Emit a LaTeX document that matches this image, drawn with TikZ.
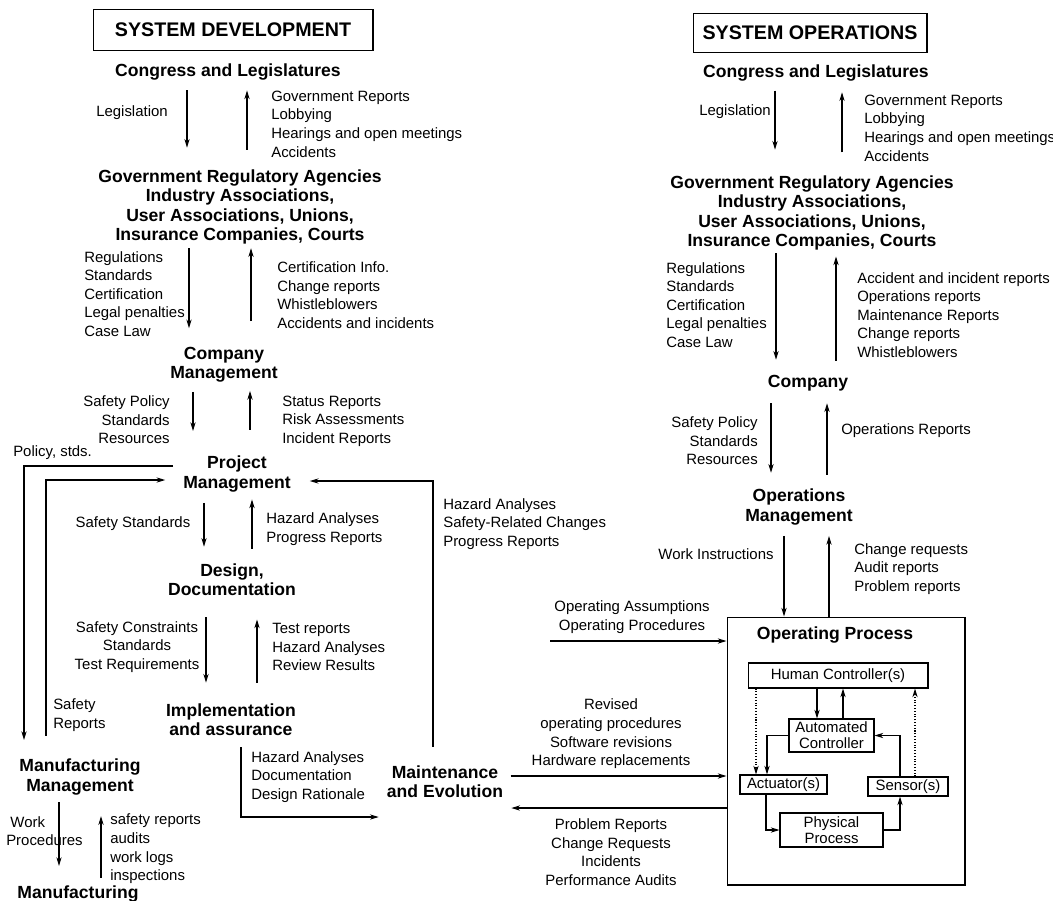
\documentclass[tikz,border=0pt]{standalone}
\usepackage{fontspec}
\setmainfont{Liberation Sans}
\usetikzlibrary{arrows.meta}
\newcommand{\lvlfont}{\bfseries\fontsize{10}{11}\selectfont}
\newcommand{\txtfont}{\fontsize{8.5}{10.6}\selectfont}

\begin{document}
\begin{tikzpicture}[x=0.02cm, y=-0.02cm, line width=0.6pt, >={Stealth[length=5pt,width=3pt]},
    head/.style={draw, font=\bfseries\fontsize{11.2}{13}\selectfont, inner sep=0pt},
    lvl/.style={font=\lvlfont, align=center, inner sep=1pt},
    lst/.style={font=\txtfont, align=left, anchor=west, inner sep=1pt},
    lstr/.style={font=\txtfont, align=right, anchor=east, inner sep=1pt},
    lstc/.style={font=\txtfont, align=center, inner sep=1pt},
    blk/.style={draw, font=\fontsize{8.5}{9}\selectfont, align=center, inner sep=0pt},
    sh/.style 2 args={shorten <=#1, shorten >=#2}]
    \useasboundingbox (0,0) rectangle (1053,900);

    % System development
    \node[head, minimum width=5.6cm, minimum height=0.82cm] (devhead) at (233,30) {SYSTEM DEVELOPMENT};
    \node[lvl] (congD) at (228,72) {Congress and Legislatures};
    \node[lstc] (legisD) at (132,113) {Legislation};
    \node[lst] (grepD) at (269,124) {Government Reports\\Lobbying\\Hearings and open meetings\\Accidents};
    \node[lvl] (agencyD) at (240,207) {Government Regulatory Agencies\\Industry Associations,\\User Associations, Unions,\\Insurance Companies, Courts};
    \node[lst] (regD) at (82,294) {Regulations\\Standards\\Certification\\Legal penalties\\Case Law};
    \node[lst] (certD) at (275,295) {Certification Info.\\Change reports\\Whistleblowers\\Accidents and incidents};
    \node[lvl] (compD) at (224,365) {Company\\Management};
    \node[lstr] (polD) at (172,420) {Safety Policy\\Standards\\Resources};
    \node[lst] (statD) at (280,421) {Status Reports\\Risk Assessments\\Incident Reports};
    \node[lst] (stdsD) at (11,453) {Policy, stds.};
    \node[lvl] (projD) at (237,474) {Project\\Management};
    \node[lst] (hazD) at (441,524) {Hazard Analyses\\Safety-Related Changes\\Progress Reports};
    \node[lstc] (safstdD) at (133,524) {Safety Standards};
    \node[lst] (progD) at (264,529) {Hazard Analyses\\Progress Reports};
    \node[lvl] (desD) at (232,580) {Design,\\Documentation};
    \node[lstc] (consD) at (137,647) {Safety Constraints\\Standards\\Test Requirements};
    \node[lst] (testD) at (270,647) {Test reports\\Hazard Analyses\\Review Results};
    \node[lvl] (implD) at (231,720) {Implementation\\and assurance};
    \node[lst] (srepD) at (51,715) {Safety\\Reports};
    \node[lst] (docD) at (249,777) {Hazard Analyses\\Documentation\\Design Rationale};
    \node[lvl] (maint) at (445,782) {Maintenance\\and Evolution};
    \node[lvl] (mfgmD) at (80,777) {Manufacturing\\Management};
    \node[lst] (workD) at (4,831) {\ Work\\Procedures};
    \node[lst] (logsD) at (108,849) {safety reports\\audits\\work logs\\inspections};
    \node[lvl] (mfgD) at (78,894) {Manufacturing};

    \draw[->, sh={4.5pt}{11.3pt}] (congD.south -| 187,0) -- (agencyD.north -| 187,0);
    \draw[->, sh={10pt}{4.5pt}] (agencyD.north -| 247,0) -- (congD.south -| 247,0);
    \draw[->, sh={1pt}{9.6pt}] (agencyD.south -| 189,0) -- (compD.north -| 189,0);
    \draw[->, sh={13.6pt}{1pt}] (compD.north -| 251,0) -- (agencyD.south -| 251,0);
    \draw[->, sh={4pt}{13pt}] (compD.south -| 193,0) -- (projD.north -| 193,0);
    \draw[->, sh={13.6pt}{3.4pt}] (projD.north -| 250,0) -- (compD.south -| 250,0);
    \draw[->, sh={5pt}{8.5pt}] (projD.south -| 204,0) -- (desD.north -| 204,0);
    \draw[->, sh={7.4pt}{3pt}] (desD.north -| 252,0) -- (projD.south -| 252,0);
    \draw[->, sh={10.8pt}{10.8pt}] (desD.south -| 206,0) -- (implD.north -| 206,0);
    \draw[->, sh={10.8pt}{12pt}] (implD.north -| 257,0) -- (desD.south -| 257,0);
    \draw[->, sh={3pt}{10pt}] (mfgmD.south -| 59,0) -- (mfgD.north -| 59,0);
    \draw[->, sh={3.4pt}{10.8pt}] (mfgD.north -| 101,0) -- (mfgmD.south -| 101,0);

    % feedback loops round project management
    \draw[->, sh={4.5pt}{9.6pt}] (projD.west |- 0,466) -| (24,0 |- mfgmD.north);
    \draw[->, sh={12pt}{9pt}] (46,0 |- mfgmD.north) |- (projD.west |- 0,480);
    \draw[->, sh={9.6pt}{9.6pt}] (433,0 |- maint.north) |- (projD.east |- 0,481);
    \draw[->, sh={5pt}{3.4pt}] (241,0 |- implD.south) |- (maint.west |- 0,817);

    % System operations
    \node[head, minimum width=4.68cm, minimum height=0.78cm] (opshead) at (810,33) {SYSTEM OPERATIONS};
    \node[lvl] (congO) at (816,73) {Congress and Legislatures};
    \node[lstc] (legisO) at (735,112) {Legislation};
    \node[lst] (grepO) at (862,128) {Government Reports\\Lobbying\\Hearings and open meetings\\Accidents};
    \node[lvl] (agencyO) at (812,213) {Government Regulatory Agencies\\Industry Associations,\\User Associations, Unions,\\Insurance Companies, Courts};
    \node[lst] (regO) at (664,305) {Regulations\\Standards\\Certification\\Legal penalties\\Case Law};
    \node[lst] (accO) at (855,315) {Accident and incident reports\\Operations reports\\Maintenance Reports\\Change reports\\Whistleblowers};
    \node[lvl] (compO) at (808,383) {Company};
    \node[lstr] (polO) at (760,441) {Safety Policy\\Standards\\Resources};
    \node[lst] (opsrepO) at (839,431) {Operations Reports};
    \node[lvl] (opsmO) at (799,507) {Operations\\Management};
    \node[lstc] (workinstO) at (716,554) {Work Instructions};
    \node[lst] (chgO) at (852,569) {Change requests\\Audit reports\\Problem reports};

    \draw[->, sh={4pt}{13.6pt}] (congO.south -| 775,0) -- (agencyO.north -| 775,0);
    \draw[->, sh={12pt}{5pt}] (agencyO.north -| 842,0) -- (congO.south -| 842,0);
    \draw[->, line width=1pt, sh={0.5pt}{7.4pt}] (agencyO.south -| 776,0) -- (compO.north -| 776,0);
    \draw[->, sh={6.8pt}{2.3pt}] (compO.north -| 836,0) -- (agencyO.south -| 836,0);
    \draw[->, sh={5.7pt}{8pt}] (compO.south -| 771,0) -- (opsmO.north -| 771,0);
    \draw[->, line width=0.9pt, sh={6.8pt}{5.7pt}] (opsmO.north -| 827,0) -- (compO.south -| 827,0);

    % operating process
    \node[draw, minimum width=4.76cm, minimum height=5.36cm, inner sep=0pt] (opbox) at (846,751) {};
    \node[lvl] (optitle) at (835,635) {Operating Process};
    \node[blk, minimum width=3.6cm, minimum height=0.5cm] (human) at (838,675.5) {Human Controller(s)};
    \node[blk, minimum width=1.7cm, minimum height=0.66cm] (auto) at (831.5,735.5) {Automated\\Controller};
    \node[blk, minimum width=1.74cm, minimum height=0.38cm] (act) at (783.5,784.5) {Actuator(s)};
    \node[blk, minimum width=1.6cm, minimum height=0.38cm] (sens) at (908,786.5) {Sensor(s)};
    \node[blk, minimum width=2.06cm, minimum height=0.68cm] (phys) at (831.5,830) {Physical\\Process};

    \draw[->, sh={5pt}{0pt}] (opsmO.south -| 784,0) -- (opbox.north -| 784,0);
    \draw[->, sh={0pt}{5pt}] (opbox.north -| 829,0) -- (opsmO.south -| 829,0);
    \draw[->] (human.south -| 817,0) -- (auto.north -| 817,0);
    \draw[->] (auto.north -| 843,0) -- (human.south -| 843,0);
    \draw[->] (auto.west) -| (767,0 |- act.north);
    \draw[->] (900,0 |- sens.north) |- (auto.east);
    \draw[->, densely dotted] (human.south -| 756,0) -- (act.north -| 756,0);
    \draw[->, densely dotted] (sens.north -| 915,0) -- (human.south -| 915,0);
    \draw[->] (766,0 |- act.south) |- (phys.west);
    \draw[->] (phys.east) -| (900,0 |- sens.south);

    % links to maintenance
    \node[lstc] (assum) at (632,617) {Operating Assumptions\\Operating Procedures};
    \coordinate (assumL) at (550,641);
    \node[lstc] (revis) at (611,734) {Revised\\operating procedures\\Software revisions\\Hardware replacements};
    \node[lstc] (probl) at (611,852) {Problem Reports\\Change Requests\\Incidents\\Performance Audits};

    \draw[->] (assumL) -- (opbox.west |- assumL);
    \draw[->, sh={3pt}{0pt}] (maint.east |- 0,776) -- (opbox.west |- 0,776);
    \draw[->, sh={0pt}{3.4pt}] (opbox.west |- 0,808) -- (maint.east |- 0,808);

\end{tikzpicture}
\end{document}
